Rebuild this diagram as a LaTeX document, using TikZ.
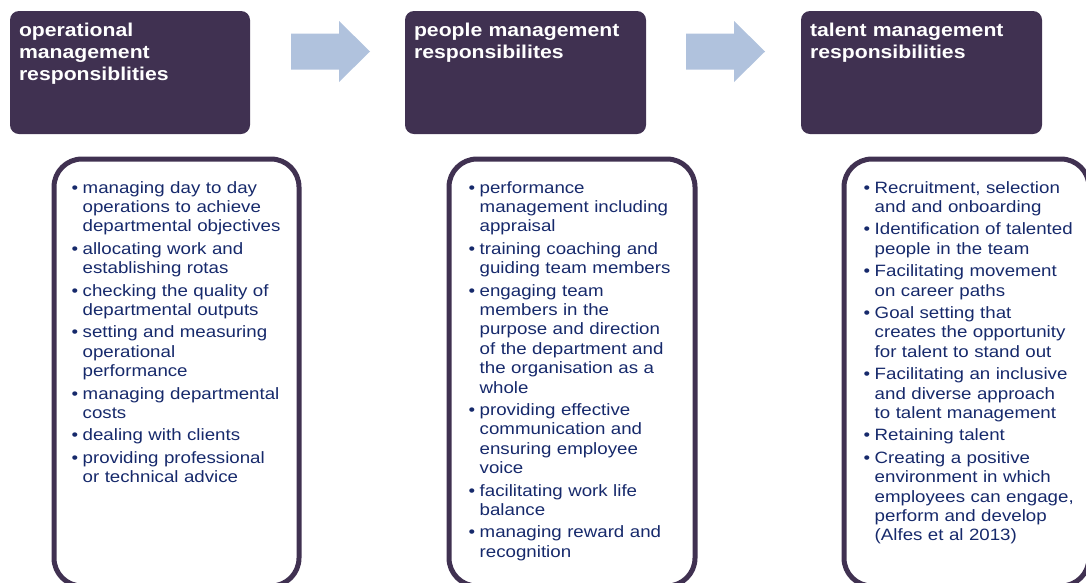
\documentclass[tikz,border=0pt]{standalone}
\usepackage{fontspec}
\setmainfont{Liberation Sans}
\newfontfamily\wideSans[FakeStretch=1.14]{Liberation Sans}
\usetikzlibrary{positioning}
\definecolor{hdPurple}{HTML}{403151}
\definecolor{txNavy}{HTML}{16296B}
\definecolor{flowBlue}{HTML}{B0C2DD}
\tikzset{head/.style={rectangle, fill=hdPurple, rounded corners=9pt,
  minimum width=240pt, minimum height=123pt, inner sep=0pt}}
\tikzset{headtxt/.style={anchor=base west, inner sep=0pt, text width=230pt,
  align=left, text=white, font=\wideSans\bfseries\fontsize{18.6}{22}\selectfont}}
\tikzset{listbox/.style={rectangle, draw=hdPurple, line width=5pt,
  rounded corners=28pt, minimum width=245pt, minimum height=427pt, inner sep=0pt}}
\tikzset{listtxt/.style={anchor=base west, inner sep=0pt, text width=260pt,
  align=left, text=txNavy, font=\wideSans\fontsize{16.4}{19.4}\selectfont,
  execute at begin node={\setlength{\parskip}{3pt}\setlength{\parindent}{0pt}}}}
\tikzset{flow/.style={fill=flowBlue}}
% one bullet point with a hanging indent (lines broken with \newline)
\newcommand{\itm}[1]{\hangindent=11pt\hangafter=1
  \makebox[11pt][l]{\textbullet}#1\par}

\begin{document}
\begin{tikzpicture}[x=1pt,y=-1pt]
    \useasboundingbox (0,0) rectangle (1086,582);
    \clip (0,0) rectangle (1086,582);
    %% headers
    \node (hOps) at (130,72.5) [head] {};
    \node (hPpl) at (525.5,72.5) [head, minimum width=241pt] {};
    \node (hTal) at (921.5,72.5) [head, minimum width=241pt] {};
    \node at ([shift={(9,26)}]hOps.north west) [headtxt]
        {operational\\management\\responsiblities};
    \node at ([shift={(9,26)}]hPpl.north west) [headtxt]
        {people management\\responsibilites};
    \node at ([shift={(9,26)}]hTal.north west) [headtxt]
        {talent management\\responsibilities};
    %% block arrows between headers
    \coordinate (aOne) at (291,51.5);
    \coordinate (aTwo) at (686,51.5);
    \fill[flow] (aOne) ++(0,-18) -- ++(48,0) -- ++(0,-12.5) -- ++(31,30.5)
        -- ++(-31,30.5) -- ++(0,-12.5) -- ++(-48,0) -- cycle;
    \fill[flow] (aTwo) ++(0,-18) -- ++(48,0) -- ++(0,-12.5) -- ++(31,30.5)
        -- ++(-31,30.5) -- ++(0,-12.5) -- ++(-48,0) -- cycle;
    %% lists
    \node (bOps) at (176.5,372.5) [listbox] {};
    \node (bPpl) at (572,372.5) [listbox, minimum width=246pt] {};
    \node (bTal) at (966.5,372.5) [listbox] {};
    \node at ([shift={(20,36.5)}]bOps.north west) [listtxt] {%
        \itm{managing day to day\newline operations to achieve\newline departmental objectives}
        \itm{allocating work and\newline establishing rotas}
        \itm{checking the quality of\newline departmental outputs}
        \itm{setting and measuring\newline operational\newline performance}
        \itm{managing departmental\newline costs}
        \itm{dealing with clients}
        \itm{providing professional\newline or technical advice}};
    \node at ([shift={(22,36.5)}]bPpl.north west) [listtxt] {%
        \itm{performance\newline management including\newline appraisal}
        \itm{training coaching and\newline guiding team members}
        \itm{engaging team\newline members in the\newline purpose and direction\newline of the department and\newline the organisation as a\newline whole}
        \itm{providing effective\newline communication and\newline ensuring employee\newline voice}
        \itm{facilitating work life\newline balance}
        \itm{managing reward and\newline recognition}};
    \node at ([shift={(22,36.5)}]bTal.north west) [listtxt] {%
        \itm{Recruitment, selection\newline and and onboarding}
        \itm{Identification of talented\newline people in the team}
        \itm{Facilitating movement\newline on career paths}
        \itm{Goal setting that\newline creates the opportunity\newline for talent to stand out}
        \itm{Facilitating an inclusive\newline and diverse approach\newline to talent management}
        \itm{Retaining talent}
        \itm{Creating a positive\newline environment in which\newline employees can engage,\newline perform and develop\newline (Alfes et al 2013)}};
\end{tikzpicture}
\end{document}
